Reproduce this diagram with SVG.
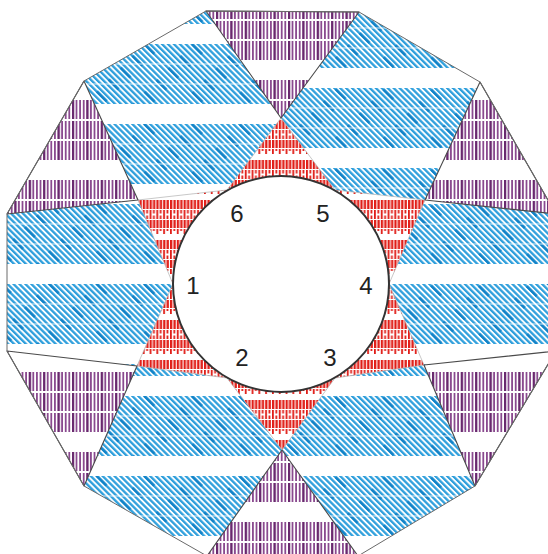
<svg xmlns="http://www.w3.org/2000/svg" width="548" height="554" viewBox="0 0 548 554">
<style>
.edge{stroke:#4a4a4a;stroke-width:1.1;stroke-linejoin:round}
.soft{stroke:#b0b0b0;stroke-width:0.7}
.num{font-family:"Liberation Sans",Arial,sans-serif;font-size:24px;fill:#222;text-anchor:middle}
</style>
<defs>
<pattern id="bh" width="4.2" height="10" patternUnits="userSpaceOnUse" patternTransform="rotate(-45)">
<rect width="2.3" height="10" fill="#2f9fdc"/>
</pattern>
<pattern id="bd" width="16.8" height="34" patternUnits="userSpaceOnUse" patternTransform="rotate(-45)">
<rect width="2.6" height="14" fill="#1283c8"/>
</pattern>
<pattern id="pv" width="3.6" height="20" patternUnits="userSpaceOnUse">
<rect width="1.8" height="20" fill="#8a4a8f"/>
</pattern>
<pattern id="pd" width="14.4" height="20" patternUnits="userSpaceOnUse">
<rect width="2.2" height="20" fill="#69296e"/>
</pattern>
<g id="blueTile">
<rect width="600" height="60" fill="url(#bh)"/>
<rect width="600" height="60" fill="url(#bd)"/>
<rect y="19.5" width="600" height="1" fill="#fff" opacity="0.8"/>
<rect y="39.5" width="600" height="1" fill="#fff" opacity="0.8"/>
</g>
<g id="purpTile">
<rect width="600" height="60" fill="url(#pv)"/>
<rect width="600" height="60" fill="url(#pd)"/>
<rect y="19" width="600" height="2" fill="#fff"/>
<rect y="39" width="600" height="2" fill="#fff"/>
</g>
<pattern id="blueA" width="600" height="80" y="44" patternUnits="userSpaceOnUse"><use href="#blueTile"/></pattern>
<pattern id="blueB" width="600" height="80" y="8" patternUnits="userSpaceOnUse"><use href="#blueTile"/></pattern>
<pattern id="blueC" width="600" height="80" y="-4" patternUnits="userSpaceOnUse"><use href="#blueTile"/></pattern>
<pattern id="purpA" width="600" height="80" y="0" patternUnits="userSpaceOnUse"><use href="#purpTile"/></pattern>
<pattern id="purpB" width="600" height="80" y="20" patternUnits="userSpaceOnUse"><use href="#purpTile"/></pattern>
<pattern id="purpC" width="600" height="80" y="52" patternUnits="userSpaceOnUse"><use href="#purpTile"/></pattern>
<pattern id="purpD" width="600" height="80" y="42" patternUnits="userSpaceOnUse"><use href="#purpTile"/></pattern>
<pattern id="red" width="6.8" height="40" patternUnits="userSpaceOnUse">
<rect x="0" y="0" width="2.3" height="9" fill="#e01e18"/>
<rect x="3.4" y="0" width="2.3" height="9" fill="#e01e18"/>
<rect x="0" y="10" width="1.8" height="9" fill="#e01e18"/>
<rect x="3.4" y="10" width="1.8" height="3.5" fill="#e01e18"/>
<rect x="3.4" y="15.5" width="1.8" height="3.5" fill="#e01e18"/>
<rect x="0" y="20" width="2.3" height="8" fill="#e01e18"/>
<rect x="3.4" y="20" width="2.3" height="8" fill="#e01e18"/>
<rect x="0" y="29" width="1.8" height="5" fill="#e01e18"/>
<rect x="3.4" y="29" width="1.8" height="2" fill="#e01e18"/>
</pattern>
</defs>
<rect width="548" height="554" fill="#fff"/>
<g id="blue-pieces">
<polygon id="blue-ul" points="84,81 206,11 281,118 227,190 138,200" fill="url(#blueA)"/>
<polygon id="blue-ur" points="359,12 480,82 425,200 335,190 281,118" fill="url(#blueB)"/>
<polygon id="blue-r" points="556,214 556,351 424,365 389,284 425,200" fill="url(#blueA)"/>
<polygon id="blue-lr" points="475,486 358,556 282,450 335,378 424,365" fill="url(#blueC)"/>
<polygon id="blue-ll" points="207,556 84,486 137,366 227,378 282,450" fill="url(#blueC)"/>
<polygon id="blue-l" points="7,351 7,214 138,200 173,284 137,366" fill="url(#blueA)"/>
</g>
<g id="red-pieces" fill="url(#red)">
<polygon id="red-t" class="soft" points="227,190 281,118 335,190"/>
<polygon id="red-ur" class="soft" points="335,190 425,200 389,284"/>
<polygon id="red-lr" class="soft" points="389,284 424,365 335,378"/>
<polygon id="red-b" class="soft" points="335,378 282,450 227,378"/>
<polygon id="red-ll" class="soft" points="227,378 137,366 173,284"/>
<polygon id="red-ul" class="soft" points="173,284 138,200 227,190"/>
</g>
<g id="purple-pieces">
<polygon id="purple-t" class="edge" points="206,11 359,12 281,118" fill="url(#purpA)"/>
<polygon id="purple-ur" class="edge" points="480,82 556,214 425,200" fill="url(#purpB)"/>
<polygon id="purple-lr" class="edge" points="556,351 475,486 424,365" fill="url(#purpC)"/>
<polygon id="purple-b" class="edge" points="358,556 207,556 282,450" fill="url(#purpD)"/>
<polygon id="purple-ll" class="edge" points="84,486 7,351 137,366" fill="url(#purpC)"/>
<polygon id="purple-ul" class="edge" points="7,214 84,81 138,200" fill="url(#purpB)"/>
</g>
<polygon id="outline" points="206,11 359,12 480,82 556,214 556,351 475,486 358,556 207,556 84,486 7,351 7,214 84,81" fill="none" stroke="#6a6a6a" stroke-width="1"/>
<g id="hub">
<circle cx="281" cy="284" r="108" fill="#fff" stroke="#333" stroke-width="2"/>
<text class="num" x="193" y="294">1</text>
<text class="num" x="242" y="366">2</text>
<text class="num" x="330" y="366">3</text>
<text class="num" x="366" y="294">4</text>
<text class="num" x="323" y="222">5</text>
<text class="num" x="237" y="222">6</text>
</g>
</svg>
